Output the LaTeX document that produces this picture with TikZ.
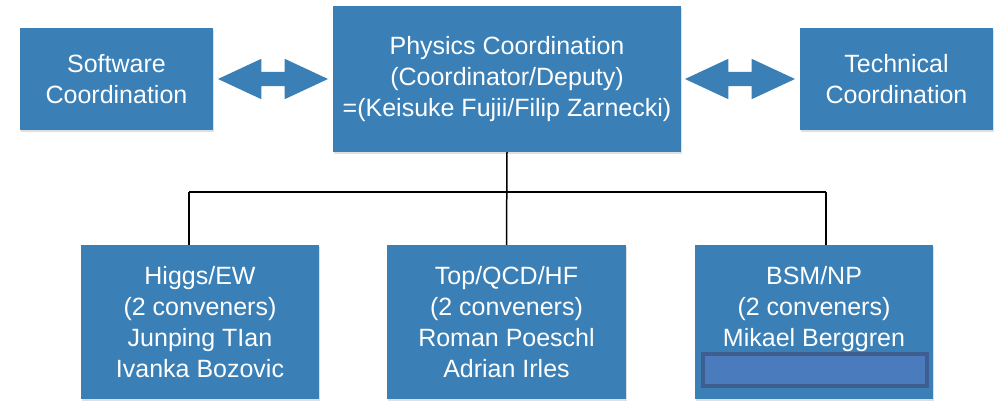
\documentclass[tikz,border=0pt]{standalone}
\usepackage{fontspec}
\setmainfont{Liberation Sans}
\usetikzlibrary{shapes.arrows,shadows}
\definecolor{boxblue}{HTML}{3A7FB5}
\definecolor{hidefill}{HTML}{4A7BBD}
\definecolor{hideline}{HTML}{3D5E8E}
\begin{document}
\begin{tikzpicture}[x=1pt, y=-1pt,
  group/.style={fill=boxblue, text=white, align=center, inner sep=0pt,
    font=\fontsize{25}{31}\selectfont,
    drop shadow={shadow xshift=1pt, shadow yshift=-2pt, opacity=0.25}},
  link/.style={double arrow, fill=boxblue, inner sep=7pt, minimum height=110pt,
    double arrow head extend=13pt, double arrow tip angle=50},
  tree/.style={line width=1.5pt}]
  \useasboundingbox (0,0) rectangle (1005,404); % page size as the reference

  % Coordination boxes
  \node[group, minimum width=193pt, minimum height=102pt] (soft) at (116.5,79) {Software\\Coordination};
  \node[group, minimum width=348pt, minimum height=146pt] (phys) at (507,79)
    {Physics Coordination\\(Coordinator/Deputy)\\=(Keisuke Fujii/Filip Zarnecki)};
  \node[group, minimum width=193pt, minimum height=102pt] (tech) at (896.5,79) {Technical\\Coordination};

  % Two-way arrows between them
  \node[link] (softlink) at (273,79) {};
  \node[link] (techlink) at (740,79) {};

  % Physics groups
  \node[group, minimum width=238pt, minimum height=154pt] (higgs) at (200,322)
    {Higgs/EW\\(2 conveners)\\Junping TIan\\Ivanka Bozovic};
  \node[group, minimum width=239pt, minimum height=154pt] (top) at (506.5,322)
    {Top/QCD/HF\\(2 conveners)\\Roman Poeschl\\Adrian Irles};
  \node[group, minimum width=238pt, minimum height=154pt] (bsm) at (814,322)
    {BSM/NP\\(2 conveners)\\Mikael Berggren\\\mbox{}};
  \node[fill=hidefill, draw=hideline, line width=4pt, minimum width=224pt,
    minimum height=32pt, inner sep=0pt] (hidden) at (815,370) {}; % covered name

  % Tree lines
  \coordinate (busL) at (189,192);
  \coordinate (busR) at (826,192);
  \draw[tree] (busL) -- (busR);
  \draw[tree] (phys.south) -- (top.north);
  \draw[tree] (busL) -- (busL |- higgs.north);
  \draw[tree] (busR) -- (busR |- bsm.north);
\end{tikzpicture}
\end{document}
